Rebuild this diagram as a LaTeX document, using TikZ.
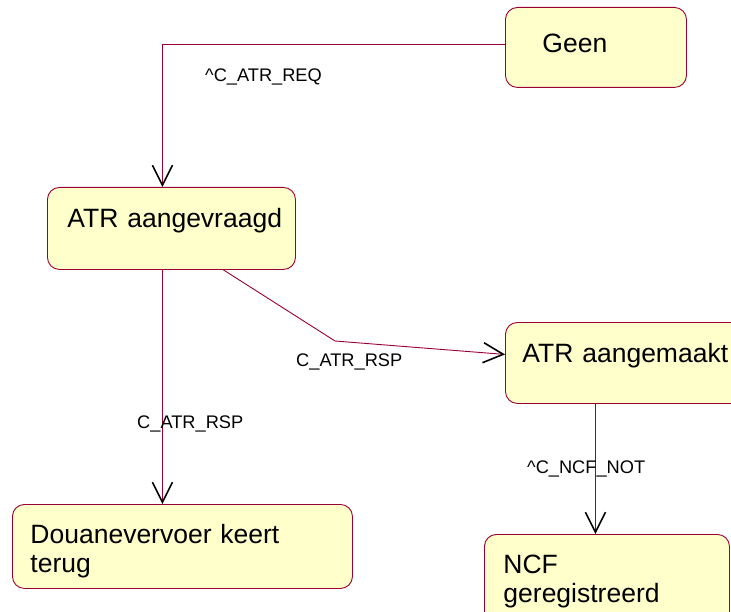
\documentclass[tikz,border=0pt]{standalone}
\usepackage{fontspec}
\setmainfont{Liberation Sans}
\usetikzlibrary{arrows.meta}
\definecolor{statefill}{HTML}{FFFFCC}
\definecolor{stateline}{HTML}{990033}
\begin{document}
\begin{tikzpicture}[x=1bp,y=-1bp,
    state/.style={draw=stateline,line width=0.9bp,fill=statefill,rounded corners=12bp,
        anchor=north west,align=left,inner ysep=0pt,
        font=\fontsize{26.6}{29}\selectfont},
    trans/.style={draw=stateline,line width=0.9bp,
        -{Straight Barb[length=20bp,width=20bp,line width=1.6bp,black]}},
    evt/.style={anchor=base west,inner sep=0pt,font=\fontsize{18.3}{22}\selectfont}]
\useasboundingbox (0,0) rectangle (731,612);

\node[state, inner xsep=37bp, text width=107bp, text height=45bp, text depth=35bp] (geen) at (505,7) {Geen};
\node[state, inner xsep=20bp, text width=208bp, text height=40bp, text depth=42bp] (aangevraagd) at (47,187) {ATR~aangevraagd};
\node[state, inner xsep=17bp, text width=216bp, text height=40bp, text depth=41bp] (aangemaakt) at (505,322) {ATR~aangemaakt};
\node[state, inner xsep=18bp, text width=304bp, text height=39bp, text depth=45bp] (douane) at (12,504) {Douanevervoer keert\\terug};
\node[state, inner xsep=19bp, text width=207bp, text height=39bp, text depth=61bp] (ncf) at (484,534) {NCF\\geregistreerd};

\coordinate (bend) at (335,341);

\draw[trans] ([yshift=3bp]geen.west) -| ([xshift=-9bp]aangevraagd.north);
\draw[trans] ([xshift=52bp]aangevraagd.south) -- (bend) -- ([yshift=8.5bp]aangemaakt.west);
\draw[trans] ([xshift=-9bp]aangevraagd.south) -- ([xshift=-9bp]aangevraagd.south |- douane.north);
\draw[trans] ([xshift=-35bp]aangemaakt.south) -- ([xshift=-35bp]aangemaakt.south |- ncf.north);

\node[evt] (reqlbl) at (205,82) {\textasciicircum C\_ATR\_REQ};
\node[evt] (rsplbl) at (296,366) {C\_ATR\_RSP};
\node[evt] (terugrsplbl) at (137,428) {C\_ATR\_RSP};
\node[evt] (notlbl) at (527,473) {\textasciicircum C\_NCF\_NOT};
\end{tikzpicture}
\end{document}
